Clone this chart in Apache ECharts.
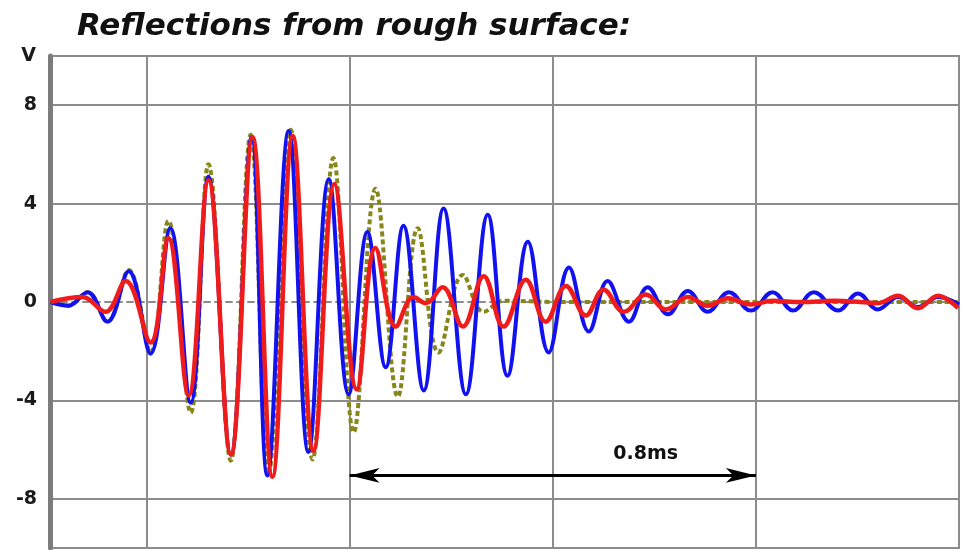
<!DOCTYPE html>
<html>
<head>
<meta charset="utf-8">
<title>Reflections from rough surface</title>
<script src="https://cdn.jsdelivr.net/npm/echarts@6/dist/echarts.min.js"></script>
<style>
html, body { margin: 0; padding: 0; background: #fff; }
#chart { width: 961px; height: 550px; }
</style>
</head>
<body>
<div id="chart"></div>
<script>
// time in ms, voltage in V
var blueT = [0.211, 0.246, 0.284, 0.323, 0.365, 0.408, 0.447, 0.487, 0.522, 0.566, 0.607, 0.638, 0.680, 0.719, 0.759, 0.798, 0.835, 0.871, 0.906, 0.946, 0.985, 1.029, 1.072, 1.111, 1.151, 1.192, 1.232, 1.271, 1.308, 1.350, 1.387, 1.427, 1.466, 1.505, 1.547, 1.590, 1.633, 1.673, 1.714, 1.762, 1.801, 1.840, 1.880, 1.919, 1.959, 2.0];
var blueV = [0, -0.15, 0.4, -0.8, 1.25, -2.1, 3.0, -4.1, 5.1, -6.2, 6.7, -7.05, 6.95, -6.1, 5.0, -3.75, 2.85, -2.65, 3.1, -3.6, 3.8, -3.75, 3.55, -3.0, 2.45, -2.05, 1.4, -1.2, 0.85, -0.8, 0.6, -0.5, 0.45, -0.4, 0.4, -0.35, 0.4, -0.35, 0.4, -0.35, 0.35, -0.3, 0.2, -0.2, 0.2, -0.1];

var redT = [0.211, 0.274, 0.319, 0.359, 0.408, 0.443, 0.483, 0.522, 0.566, 0.609, 0.648, 0.688, 0.729, 0.770, 0.814, 0.851, 0.891, 0.926, 0.950, 0.983, 1.023, 1.064, 1.103, 1.147, 1.186, 1.226, 1.265, 1.300, 1.340, 1.383, 1.423, 1.466, 1.505, 1.545, 1.590, 1.633, 1.689, 1.754, 1.807, 1.840, 1.880, 1.919, 1.959, 1.998];
var redV = [0, 0.2, -0.4, 0.85, -1.65, 2.6, -3.8, 4.95, -6.2, 6.7, -7.1, 6.75, -6.05, 4.8, -3.55, 2.2, -1.0, 0.2, -0.05, 0.6, -1.0, 1.05, -1.0, 0.9, -0.8, 0.65, -0.55, 0.5, -0.4, 0.3, -0.3, 0.2, -0.15, 0.15, -0.1, 0.05, 0, 0.05, 0, -0.05, 0.25, -0.25, 0.25, -0.25];

var oliveT = [0.211, 0.246, 0.284, 0.323, 0.365, 0.408, 0.443, 0.487, 0.522, 0.566, 0.605, 0.640, 0.684, 0.727, 0.768, 0.808, 0.851, 0.895, 0.934, 0.975, 1.023, 1.064, 1.103, 1.216, 1.492, 2.0];
var oliveV = [0, -0.15, 0.4, -0.8, 1.3, -2.05, 3.3, -4.5, 5.6, -6.45, 6.8, -7.0, 7.0, -6.4, 5.85, -5.3, 4.6, -3.85, 3.0, -2.05, 1.1, -0.4, 0.05, 0, 0, 0];

var yLabels = [-8, -4, 0, 4, 8];
var yGrid = [-8, -4, 4, 8];
var xGrid = [0.4, 0.8, 1.2, 1.6];
var spanStart = 0.8, spanEnd = 1.6, spanLevel = -7.05;
var spanText = '0.8ms';

function pairs(t, v) {
    var out = [];
    for (var i = 0; i < t.length; i++) out.push([t[i], v[i]]);
    return out;
}

var font = 'DejaVu Sans';
var chart = echarts.init(document.getElementById('chart'), null, { renderer: 'canvas' });

var option = {
    backgroundColor: '#ffffff',
    animation: false,
    title: {
        text: 'Reflections from rough surface:',
        left: 72,
        top: 6,
        textStyle: {
            fontFamily: font,
            fontSize: 31,
            fontWeight: 'bold',
            fontStyle: 'italic',
            color: '#111'
        }
    },
    grid: {
        left: 50,
        right: 2,
        top: 56,
        bottom: 2,
        show: true,
        borderColor: '#8c8c8c',
        borderWidth: 2
    },
    xAxis: {
        type: 'value',
        min: 0.21,
        max: 2.0,
        axisLabel: { show: false },
        axisTick: { show: false, customValues: xGrid },
        axisLine: {
            show: true,
            onZero: true,
            lineStyle: { color: '#8c8c8c', width: 2, type: [6, 5] }
        },
        splitLine: {
            show: true,
            lineStyle: { color: '#8c8c8c', width: 2 }
        }
    },
    yAxis: {
        type: 'value',
        min: -10,
        max: 10,
        name: 'V',
        nameLocation: 'end',
        nameGap: 0,
        nameTextStyle: {
            fontFamily: font,
            fontSize: 19,
            fontWeight: 'bold',
            color: '#1a1a1a',
            align: 'right',
            verticalAlign: 'middle',
            padding: [0, 14, 0, 0]
        },
        axisLine: {
            show: true,
            onZero: false,
            lineStyle: { color: '#7c7c7c', width: 5 }
        },
        axisTick: { show: false, customValues: yGrid },
        axisLabel: {
            customValues: yLabels,
            margin: 13,
            fontFamily: font,
            fontSize: 19,
            fontWeight: 'bold',
            color: '#1a1a1a'
        },
        splitLine: {
            show: true,
            lineStyle: { color: '#8c8c8c', width: 2 }
        }
    },
    series: [
        {
            name: 'dotted',
            type: 'line',
            data: pairs(oliveT, oliveV),
            smooth: 0.4,
            showSymbol: false,
            z: 3,
            lineStyle: { color: '#86861a', width: 4, type: [5, 3] }
        },
        {
            name: 'blue',
            type: 'line',
            data: pairs(blueT, blueV),
            smooth: 0.4,
            showSymbol: false,
            z: 4,
            lineStyle: { color: '#1212f0', width: 4 },
            markLine: {
                silent: true,
                symbol: ['arrow', 'arrow'],
                symbolSize: [11, 30],
                label: { show: false },
                lineStyle: { color: '#000', width: 3, type: 'solid' },
                data: [[{ coord: [spanStart, spanLevel] }, { coord: [spanEnd, spanLevel] }]]
            },
            markPoint: {
                silent: true,
                symbol: 'circle',
                symbolSize: 0,
                label: {
                    show: true,
                    position: 'inside',
                    formatter: spanText,
                    fontFamily: font,
                    fontSize: 19,
                    fontWeight: 'bold',
                    color: '#111'
                },
                data: [{ coord: [1.383, -6.17] }]
            }
        },
        {
            name: 'red',
            type: 'line',
            data: pairs(redT, redV),
            smooth: 0.4,
            showSymbol: false,
            z: 5,
            lineStyle: { color: '#f01c1c', width: 4.5 }
        }
    ]
};

chart.setOption(option);
</script>
</body>
</html>
